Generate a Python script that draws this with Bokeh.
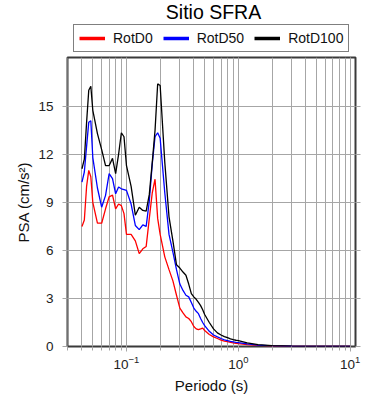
from bokeh.plotting import figure
from bokeh.layouts import column
from bokeh.models import (Range1d, LinearAxis, Legend, LegendItem, Label,
                          FixedTicker, LogTicker, ColumnDataSource)
from bokeh.embed import file_html
from bokeh.resources import INLINE

# ---- data ----
periods = [0.04, 0.042, 0.044, 0.046, 0.048, 0.05, 0.055, 0.06, 0.065, 0.07, 0.075,
           0.08, 0.085, 0.09, 0.095, 0.1, 0.11, 0.12, 0.13, 0.14, 0.15, 0.16, 0.17,
           0.18, 0.19, 0.2, 0.22, 0.24, 0.26, 0.28, 0.3, 0.32, 0.34, 0.36, 0.38, 0.4,
           0.42, 0.44, 0.46, 0.48, 0.5, 0.55, 0.6, 0.65, 0.7, 0.75, 0.8, 0.85, 0.9,
           0.95, 1.0, 1.2, 1.5, 2.0, 3.0, 4.0, 5.0, 7.5, 10.0]

rotd0 = [7.5, 7.9, 10.0, 11.0, 10.6, 9.0, 7.7, 7.7, 8.6, 9.35, 9.45,
         8.6, 8.9, 8.8, 8.3, 7.0, 7.0, 6.6, 5.8, 6.1, 6.25, 8.0, 9.6,
         10.45, 8.0, 7.0, 5.6, 4.8, 4.1, 3.2, 2.4, 2.1, 1.85, 1.75, 1.55, 1.25,
         1.1, 1.05, 1.1, 1.15, 1.0, 0.75, 0.6, 0.5, 0.4, 0.34, 0.3, 0.26, 0.23,
         0.2, 0.18, 0.12, 0.07, 0.03, 0.012, 0.006, 0.004, 0.002, 0.001]

rotd50 = [10.27, 10.9, 12.5, 14.0, 14.1, 11.8, 9.9, 8.7, 9.44, 10.8, 10.48,
          9.54, 9.96, 9.85, 9.8, 9.75, 8.9, 7.56, 7.3, 7.6, 7.5, 9.1, 11.4,
          13.1, 13.35, 13.0, 9.6, 7.0, 5.9, 4.8, 3.9, 3.5, 3.2, 3.1, 2.75, 2.4,
          2.2, 2.05, 1.75, 1.5, 1.3, 0.95, 0.72, 0.6, 0.5, 0.42, 0.37, 0.32, 0.29,
          0.26, 0.24, 0.16, 0.09, 0.04, 0.015, 0.008, 0.005, 0.003, 0.002]

rotd100 = [11.1, 11.7, 14.0, 16.0, 16.25, 14.75, 13.3, 12.3, 11.3, 11.3, 11.75,
           10.8, 12.0, 13.35, 13.1, 11.3, 10.0, 8.2, 8.7, 8.5, 8.45, 9.5, 11.5,
           13.5, 16.4, 16.3, 11.5, 8.1, 6.6, 5.1, 4.9, 4.65, 4.45, 3.9, 3.3, 3.1,
           2.95, 2.75, 2.55, 2.3, 2.0, 1.5, 1.1, 0.85, 0.72, 0.62, 0.55, 0.48, 0.43,
           0.39, 0.36, 0.22, 0.12, 0.05, 0.02, 0.01, 0.008, 0.004, 0.002]

y_ticks = [0, 3, 6, 9, 12, 15]
series_names = ["RotD0", "RotD50", "RotD100"]
series_colors = ["#ff0000", "#0000ff", "#000000"]
title_text = "Sitio SFRA"
x_label = "Periodo (s)"
y_label = "PSA (cm/s\u00b2)"

FONT = "Liberation Sans"
GRID = "#a6a6a6"
FRAME = "#3a3a3a"
FRAME_W = 288
FRAME_H = 289
HEAD_H = 55
LEFT = 67
RIGHT = 20
W = LEFT + FRAME_W + RIGHT

# ---------- header (title + legend); its frame aligns with the chart frame ----------
head = figure(width=W, height=HEAD_H, x_range=Range1d(0, FRAME_W),
              y_range=Range1d(0, HEAD_H),
              x_axis_location=None, y_axis_location=None,
              output_backend="svg", toolbar_location=None, title=None,
              min_border=0, min_border_left=LEFT, min_border_right=RIGHT,
              min_border_top=0, min_border_bottom=0)
head.outline_line_color = None
head.grid.visible = False

head.add_layout(Label(x=146, y=44, text=title_text, text_align="center",
                      text_baseline="alphabetic", text_font=FONT,
                      text_font_size="19.5px", text_color="#000000"))

legend_items = []
for name, col in zip(series_names, series_colors):
    dummy = head.line(x=[-20.0, -10.0], y=[-20.0, -10.0], line_color=col, line_width=3.5)
    legend_items.append(LegendItem(label=name, renderers=[dummy]))

legend = Legend(items=legend_items, orientation="horizontal", location=(6, 3),
                border_line_color="#000000", border_line_width=1.5,
                background_fill_alpha=1.0,
                label_text_font=FONT, label_text_font_size="14px",
                label_text_color="#111111",
                glyph_width=26, glyph_height=12, label_height=12,
                label_standoff=8, spacing=10, padding=5, margin=0)
head.add_layout(legend, "center")

# ---------- main chart ----------
p = figure(frame_width=FRAME_W, frame_height=FRAME_H, x_axis_type="log",
           x_range=Range1d(0.0297, 11.15), y_range=Range1d(0, 18.05),
           output_backend="svg", toolbar_location=None, title=None,
           min_border_left=LEFT, min_border_right=RIGHT, min_border_top=2,
           min_border_bottom=10)

p.outline_line_color = FRAME
p.outline_line_width = 2

p.yaxis.ticker = FixedTicker(ticks=y_ticks)
p.xaxis.ticker = LogTicker(num_minor_ticks=10)

for ax in p.xaxis + p.yaxis:
    ax.axis_line_color = None
    ax.major_tick_line_color = GRID
    ax.minor_tick_line_color = GRID
    ax.major_tick_out = 5
    ax.major_tick_in = 0
    ax.minor_tick_out = 4
    ax.minor_tick_in = 0
    ax.major_label_text_font = FONT
    ax.major_label_text_font_size = "13.5px"
    ax.major_label_text_color = "#222222"
    ax.axis_label_text_font = FONT
    ax.axis_label_text_font_size = "15px"
    ax.axis_label_text_font_style = "normal"
    ax.axis_label_text_color = "#111111"

p.xaxis.axis_label = x_label
p.yaxis.axis_label = y_label
p.xaxis.major_label_standoff = 4
p.yaxis.major_label_standoff = 9
p.xaxis.axis_label_standoff = 5
p.yaxis.axis_label_standoff = 3

p.xgrid.grid_line_color = GRID
p.xgrid.minor_grid_line_color = GRID
p.ygrid.grid_line_color = GRID

right_ax = LinearAxis(ticker=FixedTicker(ticks=y_ticks), axis_line_color=None,
                      major_tick_line_color=GRID, major_tick_out=5, major_tick_in=0,
                      minor_tick_line_color=None,
                      major_label_text_color=None, major_label_standoff=0,
                      major_label_text_font_size="8px")
p.add_layout(right_ax, "right")

all_series = [rotd0, rotd50, rotd100]
for name, vals, col in zip(series_names, all_series, series_colors):
    src = ColumnDataSource(dict(x=periods, y=vals))
    p.line("x", "y", source=src, line_color=col, line_width=1.3)

layout = column(head, p, spacing=0)
open("out.html", "w").write(file_html(layout, INLINE))
